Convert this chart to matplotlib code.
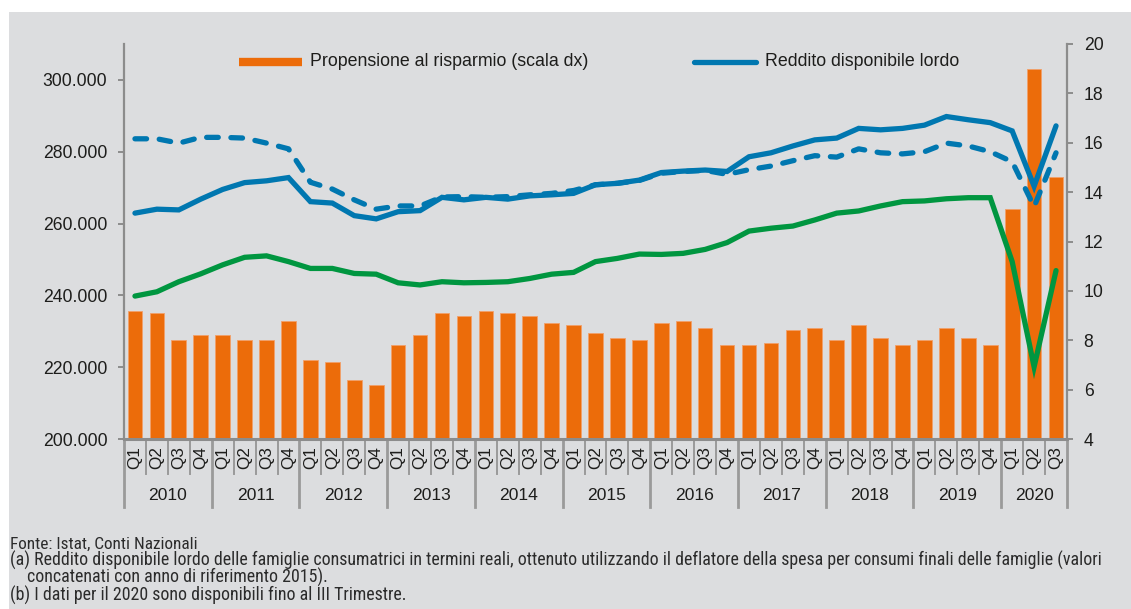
import matplotlib
matplotlib.use("Agg")
import matplotlib.pyplot as plt
from matplotlib.lines import Line2D
from matplotlib.patches import Rectangle
from matplotlib import font_manager

# ---- data -------------------------------------------------------------
anni = ["2010", "2011", "2012", "2013", "2014", "2015",
        "2016", "2017", "2018", "2019", "2020"]
trimestri = ["Q1", "Q2", "Q3", "Q4"] * 10 + ["Q1", "Q2", "Q3"]

# propensione al risparmio, % (scala dx)
propensione = [9.2, 9.1, 8.0, 8.2,
               8.2, 8.0, 8.0, 8.8,
               7.2, 7.1, 6.4, 6.2,
               7.8, 8.2, 9.1, 9.0,
               9.2, 9.1, 9.0, 8.7,
               8.6, 8.3, 8.1, 8.0,
               8.7, 8.8, 8.5, 7.8,
               7.8, 7.9, 8.4, 8.5,
               8.0, 8.6, 8.1, 7.8,
               8.0, 8.5, 8.1, 7.8,
               13.3, 19.0, 14.6]

# reddito disponibile lordo, valori correnti
rdl_nominale = [262900, 264000, 263800, 266800,
                269500, 271400, 271900, 272800,
                266100, 265700, 262200, 261300,
                263300, 263600, 267300, 266600,
                267300, 266800, 267700, 268000,
                268400, 270800, 271200, 272100,
                274200, 274600, 274900, 274500,
                278600, 279700, 281600, 283300,
                283800, 286500, 286100, 286500,
                287400, 289800, 288900, 288100,
                285800, 270400, 287200]

# reddito disponibile lordo in termini reali (a)
rdl_reale = [283600, 283600, 282400, 284000,
             284000, 283800, 282400, 280800,
             271500, 269600, 266600, 264000,
             264900, 264900, 267400, 267500,
             267300, 267500, 268000, 268400,
             269200, 270800, 271200, 272000,
             274000, 274500, 274800, 273700,
             275000, 276000, 277500, 278900,
             278500, 280800, 279700, 279400,
             280000, 282400, 281600, 280000,
             277200, 264700, 279700]

consumi = [239800, 241000, 243800, 246000,
           248500, 250600, 251000, 249400,
           247500, 247500, 246100, 245900,
           243500, 242900, 243800, 243500,
           243600, 243800, 244700, 245900,
           246400, 249400, 250300, 251500,
           251400, 251700, 252800, 254700,
           257900, 258700, 259300, 261000,
           262900, 263500, 264900, 266100,
           266300, 266900, 267200, 267200,
           249400, 220100, 246900]

left_ticks = [200000, 220000, 240000, 260000, 280000, 300000]
right_ticks = [4, 6, 8, 10, 12, 14, 16, 18, 20]

# ---- style ------------------------------------------------------------
BG = "#dcdddf"
ORANGE = "#ec6c0a"
BLUE = "#0077b0"
GREEN = "#009640"
GRID = "#8c8c8c"
TXT = "#1d1d1b"

plt.rcParams["font.family"] = ["Liberation Sans", "DejaVu Sans"]

# narrow face for the notes, if one is available
installed = {f.name for f in font_manager.fontManager.ttflist}
note_family = ["Liberation Sans", "DejaVu Sans"]
note_scale = 0.92
note_stretch = "normal"
for cand in ("Liberation Sans Narrow", "Roboto Condensed",
             "Open Sans Condensed", "Arial Narrow"):
    if cand in installed:
        note_family = [cand, "DejaVu Sans"]
        note_scale = 1.0
        break
else:
    if any(f.name == "DejaVu Sans" and str(f.stretch) == "condensed"
           for f in font_manager.fontManager.ttflist):
        note_family = ["DejaVu Sans"]
        note_stretch = "condensed"
        note_scale = 0.9

W, H = 1131, 609
fig = plt.figure(figsize=(W / 100, H / 100), dpi=100)
fig.patch.set_facecolor("white")
fig.add_artist(Rectangle((9 / W, 0), 1 - 9 / W, 1 - 12 / H,
                         transform=fig.transFigure, facecolor=BG,
                         edgecolor="none", zorder=-10))

x0, x1, ytop, ybot = 124, 1067, 44, 439
ax = fig.add_axes([x0 / W, 1 - ybot / H, (x1 - x0) / W, (ybot - ytop) / H])
ax2 = ax.twinx()
ax.set_zorder(2)
ax2.set_zorder(1)
ax.patch.set_visible(False)
ax2.patch.set_visible(False)

n = len(propensione)
xs = list(range(n))

# bars on the right-hand scale
ax2.bar(xs, propensione, width=0.67, bottom=0, color=ORANGE,
        edgecolor="#f2a06a", linewidth=0.6)
ax2.set_ylim(4, 20)
ax2.set_yticks(right_ticks)
ax2.set_yticklabels([str(t) for t in right_ticks])

# lines on the left-hand scale
ax.plot(xs, consumi, color=GREEN, lw=3.8, solid_capstyle="round",
        solid_joinstyle="miter")
ax.plot(xs, rdl_reale, color=BLUE, lw=3.8, linestyle=(0, (2.2, 2.4)),
        dash_capstyle="round", dash_joinstyle="round")
ax.plot(xs, rdl_nominale, color=BLUE, lw=3.8, solid_capstyle="round",
        solid_joinstyle="miter")
ax.set_ylim(200000, 310000)
ax.set_yticks(left_ticks)
ax.set_yticklabels([f"{t:,.0f}".replace(",", ".") for t in left_ticks])
ax.set_xlim(-0.5, n - 0.5)

for a in (ax, ax2):
    for s in a.spines.values():
        s.set_color(GRID)
        s.set_linewidth(1.6)
    a.spines["top"].set_visible(False)
ax.spines["right"].set_visible(False)
ax2.spines["left"].set_visible(False)
ax2.spines["bottom"].set_visible(False)
ax.spines["bottom"].set_linewidth(2.2)

ax.tick_params(axis="y", direction="out", length=4, width=1.4, color=GRID,
               pad=8, labelsize=12.7, labelcolor=TXT)
ax2.tick_params(axis="y", direction="out", length=4, width=1.4, color=GRID,
                pad=8, labelsize=12.7, labelcolor=TXT)

ax.set_xticks(xs)
ax.set_xticklabels(trimestri, rotation=90, va="top", ha="center")
ax.tick_params(axis="x", length=0, pad=5, labelsize=12.3, labelcolor=TXT)

# category separators below the axis
tr = ax.get_xaxis_transform()
ax_h = ybot - ytop
short_y = -35 / ax_h
long_y = -68 / ax_h
for i in range(n + 1):
    is_year = (i % 4 == 0) or i == n
    ax.add_line(Line2D([i - 0.5, i - 0.5], [0, long_y if is_year else short_y],
                       transform=tr, color="#9a9a9a",
                       lw=2.0 if is_year else 1.4, clip_on=False))
for k, anno in enumerate(anni):
    start = 4 * k
    end = min(4 * k + 3, n - 1)
    ax.text((start + end) / 2, -57 / ax_h, anno, transform=tr,
            ha="center", va="center", fontsize=12.6, color=TXT)

# legend
def fx(px):
    return px / W


def fy(py):
    return 1 - py / H


fig.add_artist(Line2D([fx(239), fx(302)], [fy(62), fy(62)],
                      transform=fig.transFigure, color=ORANGE, lw=6,
                      solid_capstyle="butt"))
fig.text(fx(310), fy(62), "Propensione al risparmio (scala dx)",
         ha="left", va="center", fontsize=12.75, color=TXT)
fig.add_artist(Line2D([fx(694), fx(756)], [fy(62), fy(62)],
                      transform=fig.transFigure, color=BLUE, lw=3.8,
                      solid_capstyle="round"))
fig.text(fx(765), fy(62), "Reddito disponibile lordo",
         ha="left", va="center", fontsize=12.75, color=TXT)

# notes
notes = [
    (10, 549, 12.4, "Fonte: Istat, Conti Nazionali"),
    (10, 566, 12.9, "(a) Reddito disponibile lordo delle famiglie consumatrici "
                    "in termini reali, ottenuto utilizzando il deflatore della "
                    "spesa per consumi finali delle famiglie (valori"),
    (27, 583, 12.9, "concatenati con anno di riferimento 2015)."),
    (10, 601, 12.9, "(b) I dati per il 2020 sono disponibili fino al III "
                    "Trimestre."),
]
for px, py, size, s in notes:
    fig.text(fx(px), fy(py), s, ha="left", va="baseline",
             fontsize=size * note_scale, color="#2b2b2b", family=note_family,
             stretch=note_stretch)

fig.savefig("out.png", dpi=100, facecolor=fig.get_facecolor())
